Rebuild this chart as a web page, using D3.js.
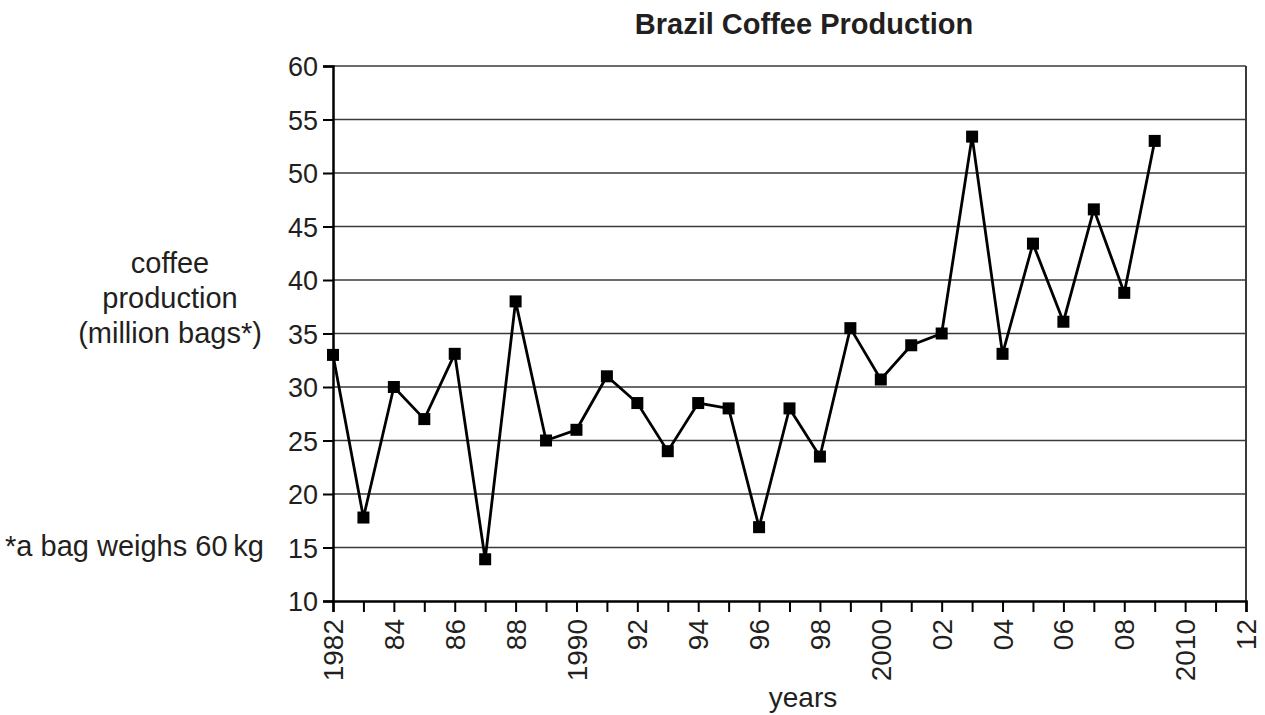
<!DOCTYPE html>
<html>
<head>
<meta charset="utf-8">
<script src="https://cdn.jsdelivr.net/npm/d3@7"></script>
<style>
  html, body { margin: 0; padding: 0; background: #fff; }
  svg { display: block; font-family: "Liberation Sans", Arial, Helvetica, sans-serif; }
</style>
</head>
<body>
<svg id="chart" width="1265" height="715"></svg>
<script>
const years = [1982,1983,1984,1985,1986,1987,1988,1989,1990,1991,1992,1993,1994,1995,1996,1997,1998,1999,2000,2001,2002,2003,2004,2005,2006,2007,2008,2009];
const production = [33.0,17.8,30.0,27.0,33.1,13.9,38.0,25.0,26.0,31.0,28.5,24.0,28.5,28.0,16.9,28.0,23.5,35.5,30.7,33.9,35.0,53.4,33.1,43.4,36.1,46.6,38.8,53.0];
const xTickYears = [1982,1983,1984,1985,1986,1987,1988,1989,1990,1991,1992,1993,1994,1995,1996,1997,1998,1999,2000,2001,2002,2003,2004,2005,2006,2007,2008,2009,2010,2011,2012];
const xLabelYears = [1982,1984,1986,1988,1990,1992,1994,1996,1998,2000,2002,2004,2006,2008,2010,2012];
const xLabels = ["1982","84","86","88","1990","92","94","96","98","2000","02","04","06","08","2010","12"];
const yTicks = [10,15,20,25,30,35,40,45,50,55,60];
const titleText = "Brazil Coffee Production";
const yTitleLines = ["coffee","production","(million bags*)"];
const footnote = "*a bag weighs 60\u2009kg";
const xTitle = "years";

const svg = d3.select("#chart");
const L = 333, R = 1246, T = 66, B = 601;
const x = d3.scaleLinear().domain([1982, 2012]).range([L, R]);
const y = d3.scaleLinear().domain([10, 60]).range([B, T]);
const ink = "#231f20";

// gridlines
svg.append("g").selectAll("line").data(yTicks.filter(d => d > 10)).join("line")
  .attr("x1", L).attr("x2", R).attr("y1", d => y(d)).attr("y2", d => y(d))
  .attr("stroke", "#3a3a3a").attr("stroke-width", 1.3);

// right border
svg.append("line").attr("x1", R).attr("x2", R).attr("y1", T).attr("y2", B)
  .attr("stroke", "#3a3a3a").attr("stroke-width", 2);

// y axis
const yAxis = d3.axisLeft(y).tickValues(yTicks).tickSize(10).tickPadding(5).tickFormat(d3.format("d"));
const gy = svg.append("g").attr("transform", `translate(${L},0)`).call(yAxis);
gy.select(".domain").attr("stroke", "#000").attr("stroke-width", 2.5);
gy.selectAll(".tick line").attr("stroke", "#000").attr("stroke-width", 2);
gy.selectAll(".tick text").attr("font-size", 27).attr("fill", ink)
  .attr("font-family", "Liberation Sans, Arial, sans-serif").attr("dy", "0.36em");

// x axis
const xAxis = d3.axisBottom(x).tickValues(xTickYears).tickSize(11).tickFormat("");
const gx = svg.append("g").attr("transform", `translate(0,${B})`).call(xAxis);
gx.select(".domain").attr("stroke", "#000").attr("stroke-width", 2.5);
gx.selectAll(".tick line").attr("stroke", "#000").attr("stroke-width", 2);

// x labels rotated
svg.append("g").selectAll("text").data(xLabelYears).join("text")
  .attr("transform", d => `translate(${x(d)},619) rotate(-90)`)
  .attr("text-anchor", "end").attr("dy", "0.36em")
  .attr("font-size", 28).attr("fill", ink)
  .text((d, i) => xLabels[i]);

// line
const line = d3.line().x((d, i) => x(years[i])).y(d => y(d));
svg.append("path").datum(production).attr("d", line)
  .attr("fill", "none").attr("stroke", "#000").attr("stroke-width", 2.8)
  .attr("stroke-linejoin", "miter");

// markers
const ms = 12;
svg.append("g").selectAll("rect").data(production).join("rect")
  .attr("x", (d, i) => x(years[i]) - ms / 2).attr("y", d => y(d) - ms / 2)
  .attr("width", ms).attr("height", ms).attr("fill", "#000");

// title
svg.append("text").attr("x", 804).attr("y", 34).attr("text-anchor", "middle")
  .attr("font-size", 29).attr("font-weight", "bold").attr("fill", ink).text(titleText);

// x title
svg.append("text").attr("x", 803).attr("y", 707).attr("text-anchor", "middle")
  .attr("font-size", 28).attr("fill", ink).text(xTitle);

// y title
svg.append("g").selectAll("text").data(yTitleLines).join("text")
  .attr("x", 170).attr("y", (d, i) => 273 + i * 35).attr("text-anchor", "middle")
  .attr("font-size", 29).attr("fill", ink).text(d => d);

// footnote
svg.append("text").attr("x", 264).attr("y", 556).attr("text-anchor", "end")
  .attr("font-size", 29).attr("fill", ink).text(footnote);
</script>
</body>
</html>
